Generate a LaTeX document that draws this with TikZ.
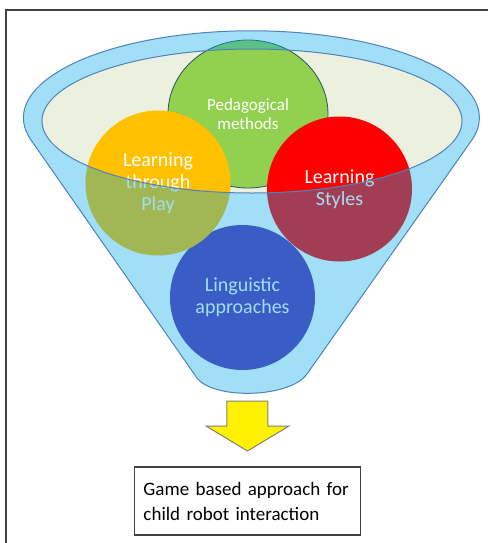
\documentclass[tikz,border=0pt]{standalone}
\usepackage{fontspec}
\setmainfont{Carlito}
\usetikzlibrary{shapes.geometric}

\definecolor{pedgreen}{RGB}{146,208,80}
\definecolor{playorange}{RGB}{255,192,0}
\definecolor{stylered}{RGB}{255,0,0}
\definecolor{lingblue}{RGB}{92,50,178}
\definecolor{funnelcyan}{RGB}{0,168,230}
\definecolor{mouthfill}{RGB}{235,241,222}
\definecolor{rimblue}{RGB}{79,129,189}
\definecolor{edgeteal}{RGB}{40,80,100}
\definecolor{framegray}{RGB}{64,64,64}

\begin{document}
\begin{tikzpicture}[
  x=0.5pt, y=0.5pt,
  topic/.style={circle, inner sep=0pt, align=center, text=white, font=\fontsize{10}{11}\selectfont, minimum size=72.5pt},
  rim/.style={draw=rimblue, line width=0.5pt},
  resultbox/.style={draw=framegray, line width=0.6pt, align=left, font=\fontsize{9.5}{12.5}\selectfont, text width=104pt, inner xsep=4.5pt, minimum height=34pt}
]
\useasboundingbox (0,0) rectangle (488,-543);
\draw[framegray, line width=0.8pt] (488,-10) -- (6,-10) -- (6,-543);

% mouth of the funnel
\node[ellipse, fill=mouthfill, minimum width=210pt, minimum height=72pt, inner sep=0pt] (mouth) at (252,-121) {};

% the four ingredients
\node[ellipse, fill=pedgreen, draw=edgeteal, line width=0.4pt, minimum width=80pt, minimum height=74pt, inner sep=0pt,
      align=center, text=white, font=\fontsize{8.5}{9.5}\selectfont] (ped) at (248,-114) {Pedagogical\\methods};
\node[topic, fill=lingblue] (ling) at (242.5,-297.5) {Linguistic\\approaches};
\node[topic, fill=playorange] (play) at (158,-183) {Learning\\through\\Play};
\node[topic, fill=stylered] (styles) at (339.5,-189) {Learning\\Styles};

% funnel body over the circles, mouth left open
\fill[funnelcyan, fill opacity=0.37, even odd rule]
  (31,-140) arc[start angle=194.8, end angle=-14.8, x radius=228, y radius=87]
  -- (307,-374) .. controls (290,-398) and (214,-400) .. (197,-378) -- cycle
  (mouth.center) ellipse[x radius=210, y radius=72];
\draw[rim]
  (31,-140) arc[start angle=194.8, end angle=-14.8, x radius=228, y radius=87]
  -- (307,-374) .. controls (290,-398) and (214,-400) .. (197,-378) -- cycle;
\draw[rim] (mouth.center) ellipse[x radius=210, y radius=72];

% outcome
\fill[yellow, draw=gray, line width=0.5pt]
  (227,-401) -- (268,-401) -- (268,-426) -- (289,-426) -- (247.5,-451) -- (206,-426) -- (227,-426) -- cycle;
\node[resultbox] (result) at (247.5,-501) {Game based approach for\\child robot interaction};
\end{tikzpicture}
\end{document}
